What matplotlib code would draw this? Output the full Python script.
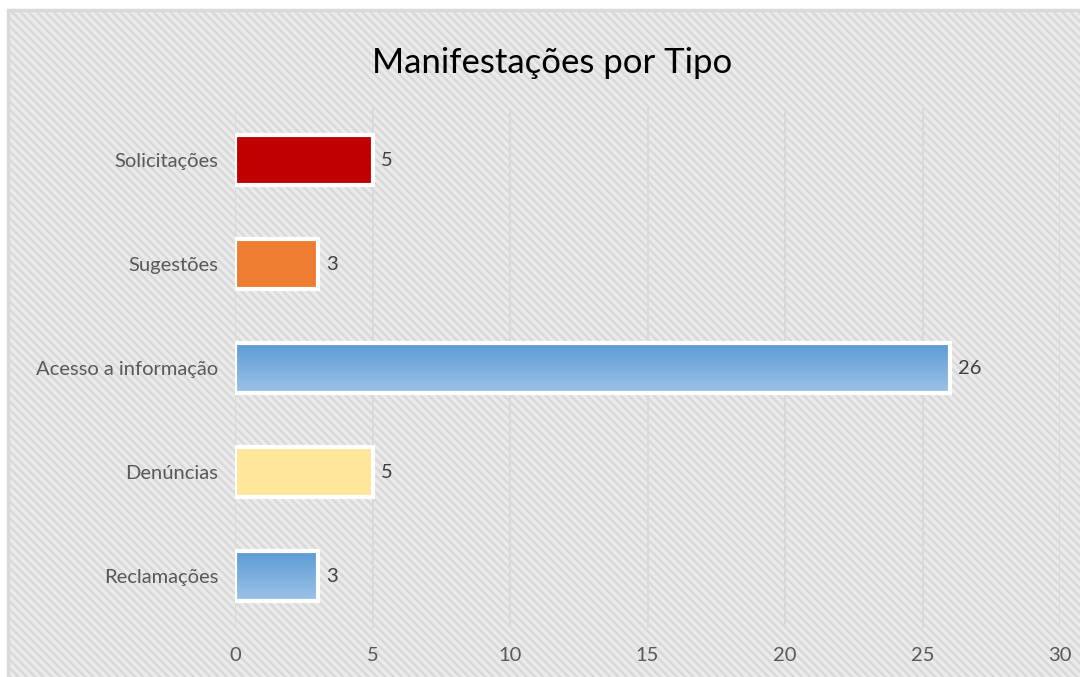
import numpy as np
import matplotlib
matplotlib.use("Agg")
from matplotlib import pyplot as plt
from matplotlib.patches import Rectangle
from matplotlib.colors import LinearSegmentedColormap

categorias = ["Reclamações", "Denúncias", "Acesso a informação", "Sugestões", "Solicitações"]
valores = [3, 5, 26, 3, 5]
cores = ["gradient", "#ffe699", "gradient", "#ed7d31", "#c00000"]
xticks = [0, 5, 10, 15, 20, 25, 30]

plt.rcParams["font.family"] = ["Lato", "DejaVu Sans"]
plt.rcParams["hatch.color"] = "white"
plt.rcParams["hatch.linewidth"] = 1.8

fig = plt.figure(figsize=(10.8, 6.77), dpi=100, facecolor="white")

# hatched chart area background with border
bg = Rectangle((8 / 1080, -0.05), 1.1, 1 - 10 / 677 + 0.05, transform=fig.transFigure,
               facecolor="#ebebeb", edgecolor="#d9d9d9", linewidth=2.5, hatch="\\\\\\\\",
               zorder=-5)
fig.patches.append(bg)

ax = fig.add_axes([235 / 1080, 1 - 628 / 677, 825 / 1080, 520 / 677])
ax.set_zorder(2)
ax.set_facecolor("none")
for s in ax.spines.values():
    s.set_visible(False)

y = np.arange(len(categorias))
h = 0.48
blues = LinearSegmentedColormap.from_list("b", ["#5b9bd5", "#9dc3e6"])
grad = np.linspace(0, 1, 100).reshape(-1, 1)

for yi, v, c in zip(y, valores, cores):
    if c == "gradient":
        ax.imshow(grad, cmap=blues, aspect="auto", extent=[0, v, yi - h / 2, yi + h / 2],
                  zorder=2, interpolation="bicubic")
        ax.barh(yi, v, height=h, facecolor="none", edgecolor="white", linewidth=3, zorder=3)
    else:
        ax.barh(yi, v, height=h, color=c, edgecolor="white", linewidth=3, zorder=3)
    ax.text(v + 0.3, yi, str(v), va="center", ha="left", fontsize=14.5, color="#404040")

ax.set_xlim(0, 30)
ax.set_ylim(-0.5, len(categorias) - 0.5)
ax.set_xticks(xticks)
ax.set_yticks(y)
ax.set_yticklabels(categorias)
ax.tick_params(axis="both", length=0, labelsize=14.5, labelcolor="#595959")
ax.tick_params(axis="y", pad=12)
ax.tick_params(axis="x", pad=14)
ax.grid(axis="x", color="#d9d9d9", linewidth=1.5, zorder=1)
ax.set_axisbelow(True)

fig.text(552 / 1080, 1 - 63 / 677, "Manifestações por Tipo", ha="center", va="center",
         fontsize=25, color="black")

fig.savefig("out.png", dpi=100)
